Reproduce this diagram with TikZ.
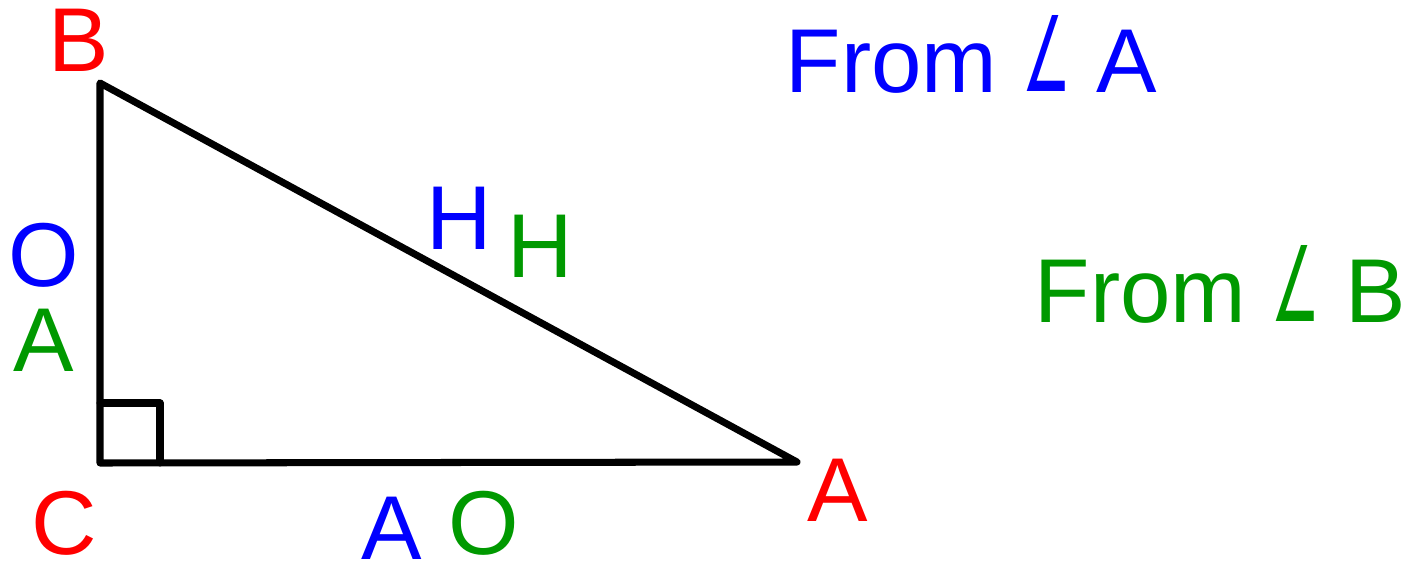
\documentclass[tikz,border=0pt]{standalone}
\usepackage{fontspec}
\setmainfont{Liberation Sans}
\newfontfamily\symfont{DejaVu Sans}
\usetikzlibrary{positioning}
\definecolor{angG}{RGB}{0,153,0}
\newcommand{\angsym}{\scalebox{0.6}[1.15]{\symfont ∠}}

\begin{document}
\begin{tikzpicture}[
    lbl/.style={inner sep=0pt, font=\fontsize{25.8}{30}\selectfont},
    vtx/.style={lbl, text=red},
    fromA/.style={lbl, text=blue},
    fromB/.style={lbl, text=angG},
    side/.style={line width=2pt, line join=round, line cap=round}
  ]
    \useasboundingbox (0,0) rectangle (14.14,5.71);
    \coordinate (B) at (1.00,4.88);
    \coordinate (C) at (1.00,1.08);
    \coordinate (A) at (7.97,1.09);
    \draw[side] (B) -- (C) -- (A) -- cycle;
    \draw[side] (1.00,1.68) -- (1.60,1.68) -- (1.60,1.08);
    \node[vtx] (labB) at (0.79,5.31) {B};
    \node[vtx] (labC) at (0.64,0.48) {C};
    \node[vtx] (labA) at (8.38,0.81) {A};
    \node[fromA] (oppA) at (0.44,3.16) {O};
    \node[fromB] (adjB) at (0.44,2.31) {A};
    \node[fromA] (hypA) at (4.59,3.53) {H};
    \node[fromB] (hypB) at (5.40,3.25) {H};
    \node[fromA] (adjA) at (3.92,0.43) {A};
    \node[fromB] (oppB) at (4.84,0.48) {O};
    \node[fromA, anchor=base west] (titleA) at (7.85,4.79) {From \angsym\ A};
    \node[fromB, anchor=base west] (titleB) at (10.34,2.49) {From \angsym\ B};
  \end{tikzpicture}
\end{document}
